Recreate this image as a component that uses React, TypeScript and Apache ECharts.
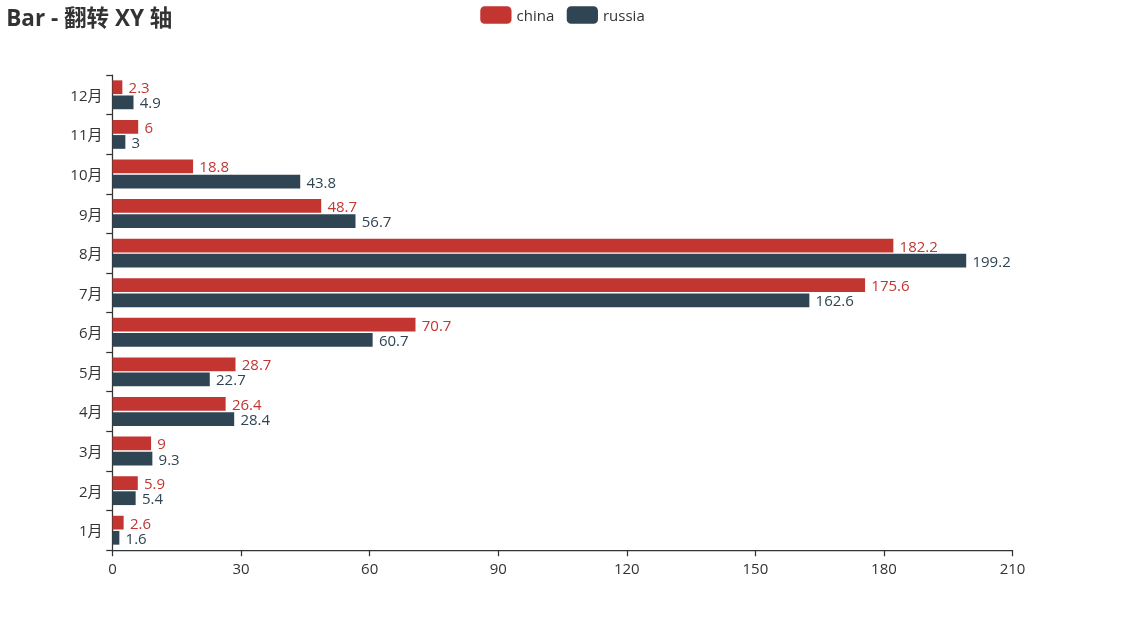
import React, { useEffect, useRef } from "react";
import * as echarts from "echarts";

const months = ["1月", "2月", "3月", "4月", "5月", "6月", "7月", "8月", "9月", "10月", "11月", "12月"];
const china = [2.6, 5.9, 9, 26.4, 28.7, 70.7, 175.6, 182.2, 48.7, 18.8, 6, 2.3];
const russia = [1.6, 5.4, 9.3, 28.4, 22.7, 60.7, 162.6, 199.2, 56.7, 43.8, 3, 4.9];
const xTicks = { min: 0, max: 210, interval: 30 };

const FONT = "'Open Sans', 'Noto Sans CJK SC', sans-serif";
const S = 1.25;

export default function App() {
  const ref = useRef<HTMLDivElement>(null);
  useEffect(() => {
    if (!ref.current) return;
    const chart = echarts.init(ref.current, undefined, { renderer: "svg" });
    chart.setOption({
      animation: false,
      color: ["#c23531", "#2f4554"],
      textStyle: { fontFamily: FONT, fontSize: 12 * S },
      title: {
        text: "Bar - 翻转 XY 轴",
        left: 5 * S,
        top: 5 * S,
        padding: 0,
        textStyle: { fontSize: 18 * S, fontWeight: "bold", color: "#333", fontFamily: FONT },
      },
      legend: {
        top: 5 * S,
        left: "center",
        padding: 0,
        itemWidth: 25 * S,
        itemHeight: 14 * S,
        itemGap: 10 * S,
        textStyle: { fontSize: 12 * S, color: "#333", fontFamily: FONT },
        data: ["china", "russia"],
      },
      grid: { left: "10%", right: "10%", top: 60 * S, bottom: 60 * S },
      xAxis: {
        type: "value",
        min: xTicks.min,
        max: xTicks.max,
        interval: xTicks.interval,
        axisLine: { show: true, lineStyle: { color: "#333", width: 1 * S } },
        axisTick: { show: true, length: 5 * S, lineStyle: { color: "#333", width: 1 * S } },
        axisLabel: { fontSize: 12 * S, color: "#333", margin: 8 * S, fontFamily: FONT },
        splitLine: { show: false },
      },
      yAxis: {
        type: "category",
        data: months,
        axisLine: { show: true, lineStyle: { color: "#333", width: 1 * S } },
        axisTick: { show: true, length: 5 * S, lineStyle: { color: "#333", width: 1 * S } },
        axisLabel: { fontSize: 12 * S, color: "#333", margin: 8 * S, fontFamily: FONT },
        splitLine: { show: false },
      },
      series: [
        {
          name: "china",
          type: "bar",
          data: china,
          label: { show: true, position: "right", distance: 5 * S, color: "#c23531", fontSize: 12 * S, fontFamily: FONT },
        },
        {
          name: "russia",
          type: "bar",
          data: russia,
          label: { show: true, position: "right", distance: 5 * S, color: "#2f4554", fontSize: 12 * S, fontFamily: FONT },
        },
      ],
    });
    return () => chart.dispose();
  }, []);
  return <div ref={ref} style={{ position: "fixed", left: 0, top: 0, width: 1125, height: 625 }} />;
}
